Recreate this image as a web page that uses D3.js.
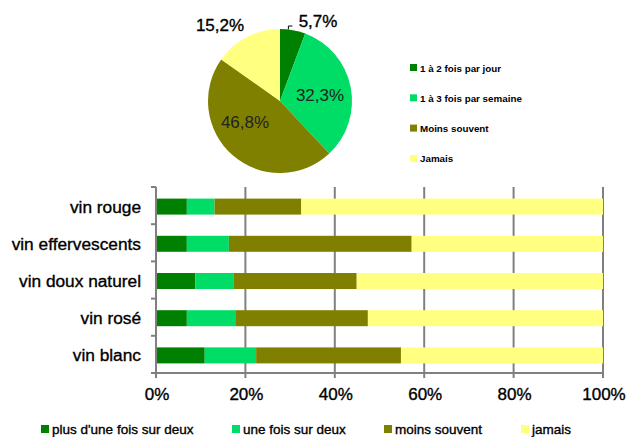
<!DOCTYPE html>
<html><head><meta charset="utf-8">
<script src="https://cdn.jsdelivr.net/npm/d3@7"></script>
<style>
html,body{margin:0;padding:0;background:#fff;}
svg{display:block;font-family:"Liberation Sans",Arial,sans-serif;}
.heavy{stroke:#000;stroke-width:0.35px;}
</style></head>
<body>
<svg id="chart" width="627" height="437"></svg>
<script>
// ---- data ----
const pieCategories = ["1 à 2 fois par jour", "1 à 3 fois par semaine", "Moins souvent", "Jamais"];
const pieValues = [5.7, 32.3, 46.8, 15.2];
const pieLabels = ["5,7%", "32,3%", "46,8%", "15,2%"];

const barCategories = ["vin rouge", "vin effervescents", "vin doux naturel", "vin rosé", "vin blanc"];
const seriesNames = ["plus d'une fois sur deux", "une fois sur deux", "moins souvent", "jamais"];
const s1 = [6.9, 6.9, 8.8, 6.9, 10.9];
const s2 = [6.2, 9.4, 8.5, 11.0, 11.5];
const s3 = [19.4, 40.9, 27.6, 29.5, 32.4];
const s4 = [67.5, 42.8, 55.1, 52.6, 45.2];
const xTicks = [0, 20, 40, 60, 80, 100];
const xTickLabels = ["0%", "20%", "40%", "60%", "80%", "100%"];

const colors = ["#008000", "#00dd66", "#808000", "#ffff80"];

const svg = d3.select("#chart");

// ---- pie ----
const cx = 280, cy = 101, R = 72;
const pie = d3.pie().sort(null).value(d => d);
const arcs = pie(pieValues);
const arc = d3.arc().innerRadius(0).outerRadius(R);
const pg = svg.append("g").attr("transform", `translate(${cx},${cy})`);
pg.selectAll("path").data(arcs).join("path")
  .attr("d", arc).attr("fill", (d, i) => colors[i]);

// label placement (relative to centre)
const labelPlace = [
  {dx: 38, dy: -74}, {dx: 40, dy: 0}, {dx: -35, dy: 27}, {dx: -60, dy: -70}
];
pg.selectAll("text.pl").data(arcs).join("text")
  .attr("class", (d, i) => (i === 0 || i === 3) ? "pl heavy" : "pl")
  .attr("x", (d, i) => labelPlace[i].dx)
  .attr("y", (d, i) => labelPlace[i].dy)
  .attr("text-anchor", "middle")
  .attr("font-size", 17)
  .attr("fill", (d, i) => (i === 1 || i === 2) ? "#222" : "#000")
  .text((d, i) => pieLabels[i]);
// leader line for small slice
const edge = d3.arc().innerRadius(R).outerRadius(R).centroid({startAngle: arcs[0].startAngle, endAngle: arcs[0].startAngle + (arcs[0].endAngle - arcs[0].startAngle) * 0.65});
pg.append("path")
  .attr("d", `M${edge[0]},${edge[1]}V${labelPlace[0].dy - 1}h4`)
  .attr("fill", "none").attr("stroke", "#000").attr("stroke-width", 1);

// pie legend
const pl = svg.append("g").attr("transform", "translate(410,68)");
const plItems = pl.selectAll("g").data(pieCategories).join("g")
  .attr("transform", (d, i) => `translate(0,${i * 30.3})`);
plItems.append("rect").attr("x", 0).attr("y", -4).attr("width", 7).attr("height", 7)
  .attr("fill", (d, i) => colors[i]);
plItems.append("text").attr("x", 10).attr("y", 3.5)
  .attr("font-size", 9.8).attr("font-weight", "bold")
  .text(d => d);

// ---- bar chart ----
const x = d3.scaleLinear().domain([0, 100]).range([156, 603]);
const y = d3.scaleBand().domain(barCategories).range([187, 373])
  .paddingInner(0.57).paddingOuter(0.285);

const rows = barCategories.map((c, i) => ({cat: c, v0: s1[i], v1: s2[i], v2: s3[i], v3: s4[i]}));
const stack = d3.stack().keys(["v0", "v1", "v2", "v3"]);
const layers = stack(rows);

// gridlines
svg.append("g").selectAll("line").data(xTicks.slice(1)).join("line")
  .attr("x1", d => x(d)).attr("x2", d => x(d))
  .attr("y1", y.range()[0]).attr("y2", y.range()[1])
  .attr("stroke", "#808080").attr("stroke-width", 2);

// bars
svg.append("g").selectAll("g").data(layers).join("g")
  .attr("fill", (d, i) => colors[i])
  .selectAll("rect").data(d => d).join("rect")
  .attr("x", d => x(d[0]))
  .attr("width", d => x(d[1]) - x(d[0]))
  .attr("y", d => y(d.data.cat) + 1)
  .attr("height", y.bandwidth());

// left axis
const ga = svg.append("g").attr("stroke", "#808080").attr("stroke-width", 2);
ga.append("line").attr("x1", x(0)).attr("x2", x(0)).attr("y1", y.range()[0]).attr("y2", y.range()[1] + 4);
const bounds = d3.range(barCategories.length + 1).map(i => y.range()[0] + i * y.step());
ga.selectAll("line.yt").data(bounds).join("line").attr("class", "yt")
  .attr("x1", x(0) - 5).attr("x2", x(0)).attr("y1", d => d).attr("y2", d => d);
// bottom axis
ga.append("line").attr("x1", x(0) - 5).attr("x2", x(100) + 1).attr("y1", y.range()[1]).attr("y2", y.range()[1]);
ga.selectAll("line.xt").data(xTicks).join("line").attr("class", "xt")
  .attr("x1", d => x(d)).attr("x2", d => x(d))
  .attr("y1", y.range()[1]).attr("y2", y.range()[1] + 5);

// category labels
svg.append("g").selectAll("text").data(barCategories).join("text")
  .attr("class", "heavy")
  .attr("x", 141).attr("y", d => y(d) + y.bandwidth() / 2 + 7)
  .attr("text-anchor", "end").attr("font-size", 17.3).attr("fill", "#000")
  .text(d => d);

// x tick labels
svg.append("g").selectAll("text").data(xTicks).join("text")
  .attr("class", "heavy")
  .attr("x", d => x(d) + 1).attr("y", 400)
  .attr("text-anchor", "middle").attr("font-size", 17).attr("fill", "#000")
  .text((d, i) => xTickLabels[i]);

// bottom legend
const legX = [41, 232, 384, 521];
const bl = svg.append("g").selectAll("g").data(seriesNames).join("g")
  .attr("transform", (d, i) => `translate(${legX[i]},429)`);
bl.append("rect").attr("x", 0).attr("y", -4).attr("width", 8).attr("height", 8)
  .attr("fill", (d, i) => colors[i]);
bl.append("text").attr("class", "heavy").attr("x", 11).attr("y", 4.5).attr("font-size", 13.5)
  .text(d => d);
</script>
</body></html>
